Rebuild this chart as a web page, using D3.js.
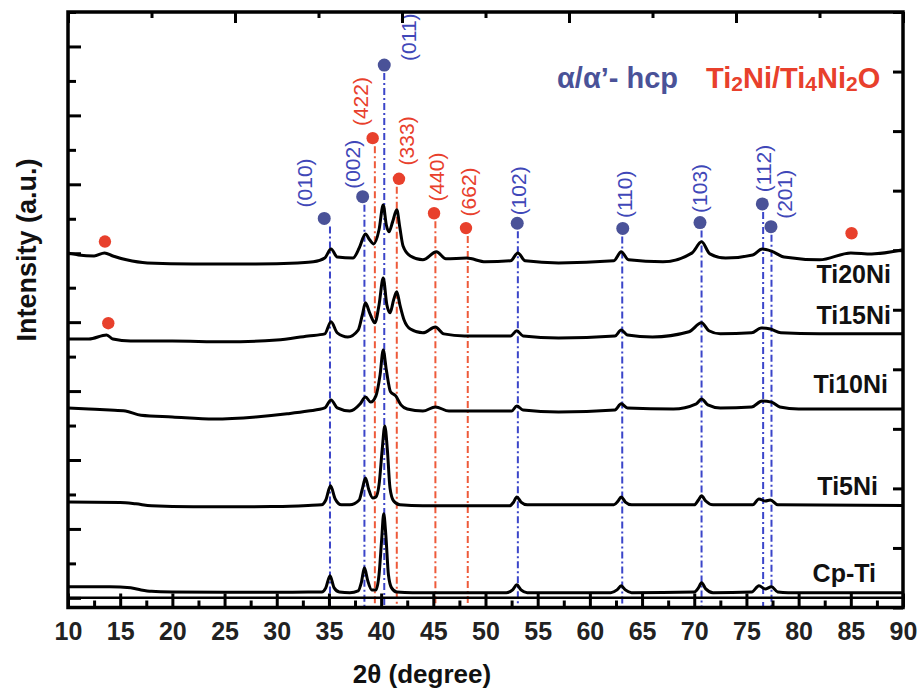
<!DOCTYPE html>
<html>
<head>
<meta charset="utf-8">
<script src="https://cdn.jsdelivr.net/npm/d3@7"></script>
<style>
  body { margin: 0; background: #fff; }
  svg { display: block; }
  text { font-family: "Liberation Sans", Arial, Helvetica, sans-serif; }
</style>
</head>
<body>
<svg id="chart" width="920" height="690"></svg>
<script>
// ---- XRD patterns: [2θ (deg), intensity (a.u., stacked)] ----
const cpTi = [
  [10,32],[12,32],[14,32],[16,29],[17,23],[18,19],[20,17],[25,16],[30,16],[33,17],[34.3,17],
  [34.7,29],[35.1,64],[35.5,29],[36,17],[37,15],[37.8,20],[38.1,44],[38.4,87],[38.7,52],[39.1,23],
  [39.5,23],[39.8,67],[40.05,168],[40.25,244],[40.45,183],[40.7,67],[41,29],[41.5,17],[43,15],
  [52,15],[52.6,23],[53.0,38],[53.4,23],[54,15],[62,15],[62.6,23],[63.0,35],[63.4,23],[64,15],
  [70,17],[70.4,29],[70.7,44],[71.1,26],[71.8,15],[75.5,17],[76.2,35],[76.8,26],[77.4,32],[78,17],
  [79,15],[90,15]
];
const ti5Ni = [
  [10,278],[15,277],[16.5,273],[18,267],[22,264],[30,265],[33,268],[34.3,270],[34.7,284],[35.15,325],
  [35.6,287],[36.2,270],[37,270],[37.9,284],[38.2,316],[38.5,348],[38.8,316],[39.2,290],[39.5,293],
  [39.8,328],[40.1,429],[40.35,499],[40.6,429],[40.85,319],[41.2,281],[41.8,270],[44,267],[52.3,267],
  [52.7,278],[53.0,293],[53.4,278],[54,270],[62.3,270],[62.7,281],[63.0,293],[63.4,278],[64,270],
  [70,270],[70.4,284],[70.7,296],[71.1,281],[71.8,270],[75.6,270],[76.2,287],[76.8,281],[77.3,284],
  [78,270],[90,268]
];
const ti10Ni = [
  [10,551],[12,548],[14,545],[15.5,542],[17,530],[20,525],[24,519],[28,525],[31,534],[33,542],[34.6,551],
  [35.2,574],[35.8,551],[37,542],[38,563],[38.5,583],[39.0,568],[39.5,586],[39.9,647],[40.2,719],
  [40.5,661],[40.9,598],[41.4,586],[41.9,560],[42.5,548],[44,542],[45.2,554],[46.5,542],[52.5,542],
  [53.0,557],[53.6,545],[57,539],[62.4,545],[63.0,563],[63.6,551],[68,548],[70.2,563],[70.7,577],
  [71.3,560],[72.5,551],[75.5,554],[76.5,571],[77.4,568],[78.2,554],[80,548],[90,548]
];
const ti15Ni = [
  [10,751],[12,751],[13.7,763],[14.3,751],[16,745],[20,745],[25,743],[30,748],[33,760],[34.6,766],
  [35.2,801],[35.8,769],[36.8,757],[37.8,777],[38.2,821],[38.5,856],[38.9,827],[39.4,798],[39.8,850],
  [40.2,928],[40.55,850],[40.85,827],[41.2,865],[41.5,888],[41.8,850],[42.2,806],[42.8,780],[44,769],
  [45.2,786],[46,766],[48,760],[52.4,760],[53.0,775],[53.6,760],[57,754],[62.4,760],[63.0,777],
  [63.6,763],[66,757],[69.5,772],[70.7,798],[71.4,775],[72.5,766],[75.5,769],[76.4,783],[77.3,780],
  [78.3,769],[82,766],[90,766]
];
const ti20Ni = [
  [10,1001],[11,995],[12.5,992],[13.5,1001],[14.3,992],[15.6,981],[17.6,972],[22,969],[28,969],[32,972],
  [33.5,975],[34.6,986],[35.2,1012],[35.8,989],[37.3,986],[37.9,1015],[38.5,1056],[38.9,1039],
  [39.3,1027],[39.8,1068],[40.2,1140],[40.5,1082],[40.75,1062],[41.1,1091],[41.5,1126],[41.8,1073],
  [42.1,1021],[42.8,992],[44,981],[45.3,1004],[46.2,984],[48.2,986],[50,975],[52.4,978],[53.1,1001],
  [53.8,978],[57,972],[62.3,978],[63.0,1004],[63.7,981],[67,975],[69.8,1001],[70.7,1033],[71.5,998],
  [73,986],[75.6,995],[76.5,1012],[77.4,1006],[78.6,989],[82,981],[85,1001],[87,998],[90,1010]
];
const sampleNames = ["Cp-Ti", "Ti5Ni", "Ti10Ni", "Ti15Ni", "Ti20Ni"];

// ---- reflections: α/α'-hcp (blue) and Ti2Ni/Ti4Ni2O (red) ----
const hcpHkl      = ["(010)", "(002)", "(011)", "(102)", "(110)", "(103)", "(112)", "(201)"];
const hcpLine     = [35.1, 38.4, 40.3, 53.1, 63.1, 70.7, 76.6, 77.4];
const hcpDot      = [34.55, 38.23, 40.3, 53.04, 63.15, 70.55, 76.52, 77.35];
const hcpDotLevel = [1101, 1164, 1546, 1087, 1072, 1089, 1143, 1077];
const hcpLabelPos = [[32.7,1204],[37.27,1258],[42.6,1627],[53.13,1181],[63.35,1171],[70.47,1188],[76.6,1246],[78.68,1171]];

const niHkl       = ["(422)", "(333)", "(440)", "(662)"];
const niLine      = [39.4, 41.5, 45.2, 48.3];
const niDot       = [39.19, 41.71, 45.07, 48.13];
const niDotLevel  = [1334, 1216, 1116, 1073];
const niLabelPos  = [[38.07,1440],[42.44,1326],[45.32,1221],[48.35,1178]];
// Ti2Ni markers without an index line
const niExtraDots = [[13.54,1034],[13.86,797],[85.07,1058]];

const xTickValues = d3.range(10, 90.01, 2.5);
const topTickValues = d3.range(10, 90.01, 8);
const yTickValues = d3.range(0, 1700.1, 100);

// ---- layout ----
const svg = d3.select("#chart");
const L = 68, R = 903, T = 12, B = 607.5;
const x = d3.scaleLinear().domain([10, 90]).range([L, R]);
const y = d3.scaleLinear().domain([-28, 1700]).range([B, T]);
const yRight = d3.scaleLinear().domain([0, 10]).range([B, T]);

const BLUE_DOT = "#4a5298", BLUE_LINE = "#3b45c9", BLUE_TXT = "#4047b8";
const RED = "#e8402c", RED_LINE = "#ee5a3a";

// index lines from each marker down to the axis
const refG = svg.append("g");
function refLines(pos, level, color) {
  refG.selectAll(null).data(pos).enter().append("line")
    .attr("x1", d => x(d)).attr("x2", d => x(d))
    .attr("y1", (d, i) => y(level[i]) + 8).attr("y2", B)
    .attr("stroke", color).attr("stroke-width", 2)
    .attr("stroke-dasharray", "7,3,2,3");
}
refLines(hcpLine, hcpDotLevel, BLUE_LINE);
refLines(niLine, niDotLevel, RED_LINE);

// horizontal line at zero intensity
svg.append("line").attr("x1", L).attr("x2", R).attr("y1", y(0)).attr("y2", y(0))
  .attr("stroke", "#000").attr("stroke-width", 2.5);

// patterns
const line = d3.line().x(d => x(d[0])).y(d => y(d[1])).curve(d3.curveMonotoneX);
svg.append("g").selectAll("path").data([cpTi, ti5Ni, ti10Ni, ti15Ni, ti20Ni]).enter()
  .append("path").attr("d", line).attr("fill", "none")
  .attr("stroke", "#000").attr("stroke-width", 3).attr("stroke-linejoin", "round");

// markers
svg.append("g").selectAll("circle").data(hcpDot).enter().append("circle")
  .attr("cx", d => x(d)).attr("cy", (d, i) => y(hcpDotLevel[i])).attr("r", 6.5).attr("fill", BLUE_DOT);
svg.append("g").selectAll("circle").data(niDot).enter().append("circle")
  .attr("cx", d => x(d)).attr("cy", (d, i) => y(niDotLevel[i])).attr("r", 6.2).attr("fill", RED);
svg.append("g").selectAll("circle").data(niExtraDots).enter().append("circle")
  .attr("cx", d => x(d[0])).attr("cy", d => y(d[1])).attr("r", 6.2).attr("fill", RED);

// hkl labels
function hklLabels(texts, pos, color) {
  svg.append("g").selectAll("text").data(texts).enter().append("text")
    .attr("transform", (d, i) => `translate(${x(pos[i][0])},${y(pos[i][1])}) rotate(-90)`)
    .attr("text-anchor", "middle").attr("dominant-baseline", "central")
    .attr("font-size", 21).attr("fill", color).text(d => d);
}
hklLabels(hcpHkl, hcpLabelPos, BLUE_TXT);
hklLabels(niHkl, niLabelPos, RED);

// phase legend
svg.append("text").attr("x", 557).attr("y", 88).attr("font-size", 29).attr("font-weight", "bold")
  .attr("fill", BLUE_DOT).text("α/α’- hcp");
const legendRed = [["Ti", false], ["2", true], ["Ni/Ti", false], ["4", true], ["Ni", false], ["2", true], ["O", false]];
const red = svg.append("text").attr("x", 706).attr("y", 88).attr("font-weight", "bold").attr("fill", RED);
legendRed.forEach(([t, sub], i) => {
  const prevSub = i > 0 && legendRed[i - 1][1];
  red.append("tspan")
    .attr("font-size", sub ? 21 : 29)
    .attr("dy", sub ? 3 : (prevSub ? -3 : 0))
    .text(t);
});

// sample names
const nameX = [876, 878, 888, 891, 891];
const nameY = [582, 495, 393, 324, 283];
svg.append("g").selectAll("text").data(sampleNames).enter().append("text")
  .attr("x", (d, i) => nameX[i]).attr("y", (d, i) => nameY[i]).attr("text-anchor", "end")
  .attr("font-size", 25).attr("font-weight", "bold").attr("fill", "#111").text(d => d);

// ---- axes ----
const axB = svg.append("g").attr("transform", `translate(0,${B})`)
  .call(d3.axisBottom(x).tickValues(xTickValues).tickSize(-14).tickFormat(d => d % 5 === 0 ? d : ""));
axB.selectAll(".tick").filter(d => d % 5 !== 0).select("line").attr("y2", -7);
axB.selectAll(".tick line").attr("stroke-width", 3);
axB.selectAll(".tick text").attr("y", 32).attr("dy", 0).attr("font-size", 25)
  .attr("font-weight", "bold").attr("fill", "#222");

const axT = svg.append("g").attr("transform", `translate(0,${T})`)
  .call(d3.axisTop(x).tickValues(topTickValues).tickSize(-11).tickFormat(""));
axT.selectAll(".tick").filter(d => (d - 10) % 16 !== 0).select("line").attr("y2", 6);
axT.selectAll(".tick line").attr("stroke-width", 3);

const axL = svg.append("g").attr("transform", `translate(${L},0)`)
  .call(d3.axisLeft(y).tickValues(yTickValues).tickSize(-13).tickFormat(""));
axL.selectAll(".tick").filter(d => d % 200 !== 0).select("line").attr("x2", 8);
axL.selectAll(".tick line").attr("stroke-width", 3);

const axR = svg.append("g").attr("transform", `translate(${R},0)`)
  .call(d3.axisRight(yRight).ticks(10).tickSize(-10).tickFormat(""));
axR.selectAll(".tick line").attr("stroke-width", 3);

[axB, axT, axL, axR].forEach(a => a.select(".domain").remove());

// frame
svg.append("rect").attr("x", L).attr("y", T).attr("width", R - L).attr("height", B - T)
  .attr("fill", "none").attr("stroke", "#000").attr("stroke-width", 3.5);

// axis titles
svg.append("text").attr("x", 422).attr("y", 683).attr("text-anchor", "middle")
  .attr("font-size", 26).attr("font-weight", "bold").attr("fill", "#111").text("2θ (degree)");
svg.append("text").attr("transform", "translate(36,250) rotate(-90)").attr("text-anchor", "middle")
  .attr("font-size", 27).attr("font-weight", "bold").attr("fill", "#111").text("Intensity (a.u.)");
</script>
</body>
</html>
